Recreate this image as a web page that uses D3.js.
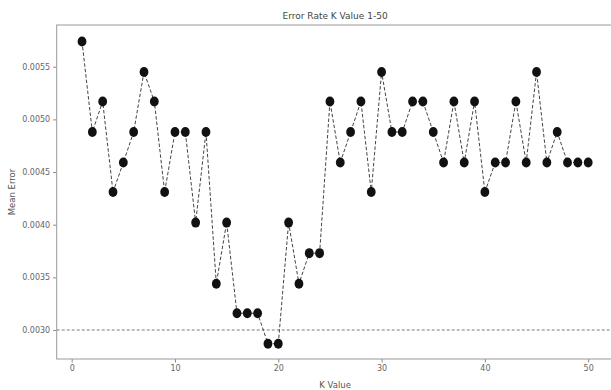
<!DOCTYPE html>
<html>
<head>
<meta charset="utf-8">
<script src="https://cdn.jsdelivr.net/npm/d3@7"></script>
<style>
    body { margin: 0; background: #fff; }
    text { font-family: "DejaVu Sans", sans-serif; }
</style>
</head>
<body>
<div id="chart"></div>
<script>
// K values 1..50 and their mean error
var kValues = d3.range(1, 51);
var meanError = [
    0.00574, 0.00488, 0.00517, 0.00431, 0.00459, 0.00488, 0.00545, 0.00517, 0.00431, 0.00488,
    0.00488, 0.00402, 0.00488, 0.00344, 0.00402, 0.00316, 0.00316, 0.00316, 0.00287, 0.00287,
    0.00402, 0.00344, 0.00373, 0.00373, 0.00517, 0.00459, 0.00488, 0.00517, 0.00431, 0.00545,
    0.00488, 0.00488, 0.00517, 0.00517, 0.00488, 0.00459, 0.00517, 0.00459, 0.00517, 0.00431,
    0.00459, 0.00459, 0.00517, 0.00459, 0.00545, 0.00459, 0.00488, 0.00459, 0.00459, 0.00459
];
var refLine = 0.003;
var xTicks = [0, 10, 20, 30, 40, 50];
var yTicks = [0.0030, 0.0035, 0.0040, 0.0045, 0.0050, 0.0055];

var width = 611, height = 390;
var margin = {top: 25, left: 56.7, right: -2.5, bottom: 31};
var innerW = width - margin.left - margin.right,
    innerH = height - margin.top - margin.bottom;

var svg = d3.select("#chart").append("svg")
    .attr("width", width)
    .attr("height", height);

var g = svg.append("g").attr("transform", "translate(" + margin.left + "," + margin.top + ")");

var x = d3.scaleLinear().domain([-1.45, 52.45]).range([0, innerW]);
var y = d3.scaleLinear().domain([0.002725, 0.005896]).range([innerH, 0]);

// reference line
g.append("line")
    .attr("x1", 0).attr("x2", innerW)
    .attr("y1", y(refLine)).attr("y2", y(refLine))
    .attr("stroke", "#a8a8a8")
    .attr("stroke-width", 1.5)
    .attr("stroke-dasharray", "3,2");

// dashed line through points
var line = d3.line().x(d => x(d[0])).y(d => y(d[1]));
var pts = kValues.map((k, i) => [k, meanError[i]]);

g.append("path")
    .datum(pts)
    .attr("d", line)
    .attr("fill", "none")
    .attr("stroke", "#444")
    .attr("stroke-width", 1)
    .attr("stroke-dasharray", "3.5,2");

g.selectAll(".pt").data(pts).enter()
    .append("ellipse").attr("class", "pt")
    .attr("cx", d => x(d[0]))
    .attr("cy", d => y(d[1]))
    .attr("rx", 4.4)
    .attr("ry", 5)
    .attr("fill", "#111");

// axes
var xAxis = g.append("g")
    .attr("transform", "translate(0," + innerH + ")")
    .call(d3.axisBottom(x).tickValues(xTicks).tickFormat(d3.format("d")).tickSize(3.5).tickPadding(3));

var yAxis = g.append("g")
    .call(d3.axisLeft(y).tickValues(yTicks).tickFormat(d3.format(".4f")).tickSize(3.5).tickPadding(3));

[xAxis, yAxis].forEach(a => {
    a.select(".domain").remove();
    a.selectAll(".tick line").attr("stroke", "#888");
    a.selectAll(".tick text").attr("fill", "#666").style("font-size", "8px");
});

// frame
g.append("rect")
    .attr("width", innerW).attr("height", innerH)
    .attr("fill", "none")
    .attr("stroke", "#999")
    .attr("stroke-width", 1);

// labels
svg.append("text")
    .attr("x", margin.left + innerW / 2).attr("y", 19)
    .attr("text-anchor", "middle")
    .attr("fill", "#444")
    .style("font-size", "9px")
    .text("Error Rate K Value 1-50");

svg.append("text")
    .attr("x", margin.left + innerW / 2).attr("y", 388)
    .attr("text-anchor", "middle")
    .attr("fill", "#555")
    .style("font-size", "8.5px")
    .text("K Value");

svg.append("text")
    .attr("transform", "translate(15," + (margin.top + innerH / 2) + ") rotate(-90)")
    .attr("text-anchor", "middle")
    .attr("fill", "#555")
    .style("font-size", "8.5px")
    .text("Mean Error");
</script>
</body>
</html>
